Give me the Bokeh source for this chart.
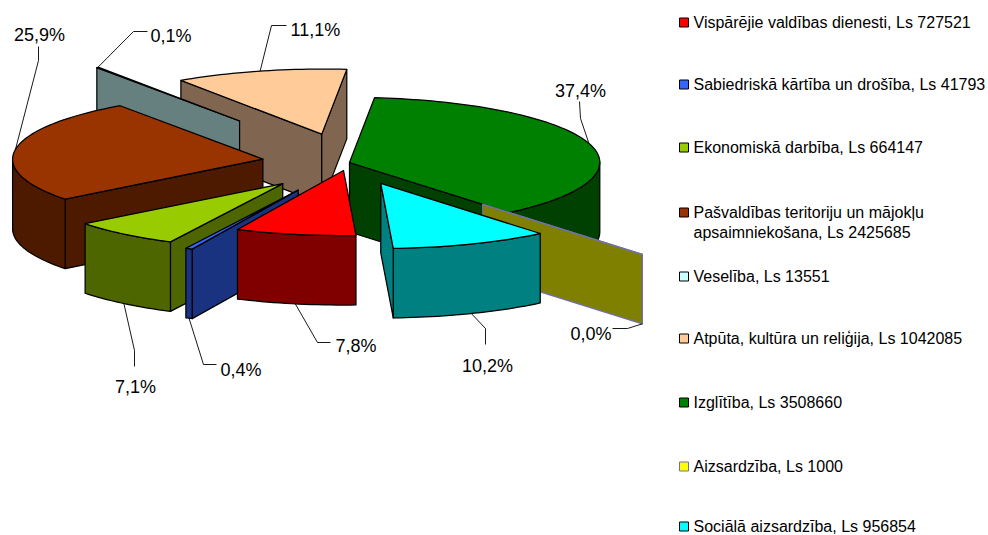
import numpy as np
from bokeh.plotting import figure
from bokeh.models import ColumnDataSource
from bokeh.core.properties import value
from bokeh.embed import file_html
from bokeh.resources import INLINE

# ---- data -----------------------------------------------------------
names = ["Vispārējie valdības dienesti", "Sabiedriskā kārtība un drošība", "Ekonomiskā darbība",
         "Pašvaldības teritoriju un mājokļu\napsaimniekošana", "Veselība",
         "Atpūta, kultūra un reliģija", "Izglītība", "Aizsardzība", "Sociālā aizsardzība"]
amounts = [727521, 41793, 664147, 2425685, 13551, 1042085, 3508660, 1000, 956854]
top_colors = ["#FF0000", "#3366FF", "#99CC00", "#993300", "#CCFFFF", "#FFCC99", "#008000", "#FFFF00", "#00FFFF"]
side_colors = ["#800000", "#1A3380", "#4D6600", "#4D1A00", "#668080", "#806650", "#004000", "#808000", "#008080"]
edge_colors = ["#000000"] * 7 + ["#7070A8", "#000000"]
explode = [0.125, 0.47, 0.42, 0.35, 0.775, 0.45, 0.0, 0.835, 0.345]

# ---- layout of the oblique projection (page pixels) -------------------
CX, CY = 349.0, 162.0
AX, AY = 12.5, 65.0        # direction of angle 0
BX, BY = -250.0, 3.4       # direction of angle 90
DEPTH = 69.5
Z_ORDER = [5, 6, 4, 3, 2, 1, 7, 0, 8]

# label: x, y, anchor; leader: True = rim at bottom of the wall, then elbows
label_pos = [(335, 345, "left"), (220, 369, "left"), (135, 386, "center"), (39, 34, "center"),
             (150, 35, "left"), (290, 29, "left"), (580, 90, "center"), (611, 333, "right"), (487, 365, "center")]
leader_low = [True, True, True, False, False, False, False, True, True]
leader_elbows = [[(317, 342), (330, 342)], [(203, 364), (216, 364)], [(134, 350), (134, 366)],
                 [(38, 60), (38, 46)], [(133, 31), (147, 31)], [(271, 25), (286, 25)],
                 [(580, 118), (579, 101)], [(627, 328), (612, 328)], [(485, 328), (485, 344)]]
legend_y = [22, 84, 147, 212, 276, 338, 402, 466, 526]
LINE_GAP = 20


def R(t):
    return AX * np.cos(t) + BX * np.sin(t), AY * np.cos(t) + BY * np.sin(t)


total = sum(amounts)
edges = np.concatenate([[0.0], np.cumsum(amounts) / total * 2 * np.pi])
mids = (edges[:-1] + edges[1:]) / 2

xs, ys, fills, lines = [], [], [], []
for i in Z_ORDER:
    ox, oy = R(mids[i])
    ox, oy = CX + explode[i] * ox, CY + explode[i] * oy
    n = max(2, int(np.degrees(edges[i + 1] - edges[i]) / 1.5) + 2)
    ts = np.linspace(edges[i], edges[i + 1], n)
    rx, ry = R(ts)
    rx, ry = ox + rx, oy + ry
    # walls: radial in, arc runs, radial out
    wall_paths = []
    if rx[0] - ox < 0:
        wall_paths.append(([ox, rx[0]], [oy, ry[0]]))
    run = []
    for k in range(n - 1):
        if rx[k + 1] - rx[k] < 0:
            if not run:
                run = [k]
            run.append(k + 1)
        elif run:
            wall_paths.append((list(rx[run]), list(ry[run])))
            run = []
    if run:
        wall_paths.append((list(rx[run]), list(ry[run])))
    if ox - rx[-1] < 0:
        wall_paths.append(([rx[-1], ox], [ry[-1], oy]))
    for wx, wy in wall_paths:
        xs.append(wx + wx[::-1])
        ys.append(wy + [v + DEPTH for v in wy[::-1]])
        fills.append(side_colors[i])
        lines.append(edge_colors[i])
    xs.append([ox] + list(rx))
    ys.append([oy] + list(ry))
    fills.append(top_colors[i])
    lines.append(edge_colors[i])

p = figure(width=988, height=535, x_range=(0, 988), y_range=(535, 0), output_backend="svg",
           toolbar_location=None, min_border=0, outline_line_color=None)
p.axis.visible = False
p.grid.visible = False

p.patches("xs", "ys", source=ColumnDataSource(dict(xs=xs, ys=ys, fill=fills, line=lines)),
          fill_color="fill", line_color="line", line_width=1.25, line_join="round")

# ---- leaders and percentage labels ------------------------------------
lx, ly = [], []
for i in range(len(amounts)):
    ox, oy = R(mids[i])
    ax = CX + (1 + explode[i]) * ox
    ay = CY + (1 + explode[i]) * oy + (DEPTH if leader_low[i] else 0)
    lx.append([ax] + [e[0] for e in leader_elbows[i]])
    ly.append([ay] + [e[1] for e in leader_elbows[i]])
p.multi_line(lx, ly, line_color="#000000", line_width=0.9)

for i, a in enumerate(amounts):
    txt = f"{a / total * 100:.1f}%".replace(".", ",")
    x, y, anc = label_pos[i]
    p.text([x], [y], text=[txt], text_font=value("Liberation Sans"), text_font_size="18px",
           text_color="#000000", text_align=anc, text_baseline="middle")

# ---- legend -----------------------------------------------------------
for i, a in enumerate(amounts):
    y = legend_y[i]
    p.quad(left=[679], right=[688], top=[y - 4.5], bottom=[y + 4.5], fill_color=top_colors[i],
           line_color=edge_colors[i], line_width=1)
    parts = f"{names[i]}, Ls {a}".split("\n")
    for j, part in enumerate(parts):
        p.text([693], [y + j * LINE_GAP], text=[part], text_font=value("Liberation Sans"),
               text_font_size="16px", text_color="#000000", text_align="left", text_baseline="middle")

open("out.html", "w").write(file_html(p, INLINE))
